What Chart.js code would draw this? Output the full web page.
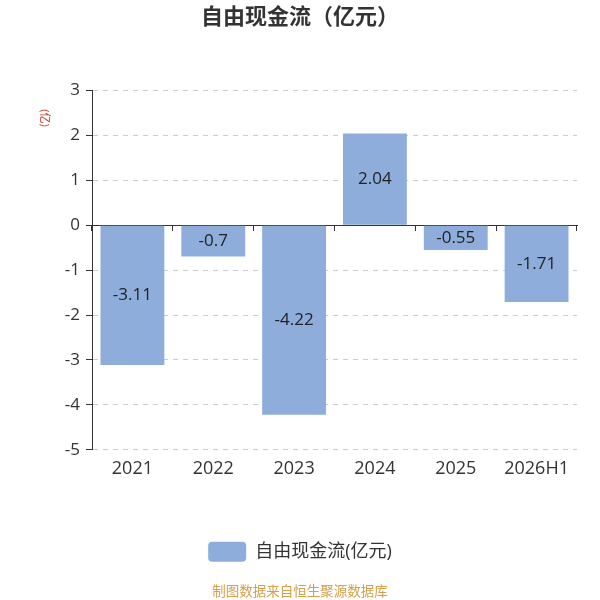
<!DOCTYPE html>
<html>
<head>
<meta charset="utf-8">
<script src="https://cdn.jsdelivr.net/npm/chart.js@4/dist/chart.umd.min.js"></script>
<style>
  body { margin: 0; background: #fff; }
  #wrap { width: 600px; height: 600px; }
</style>
</head>
<body>
<div id="wrap"><canvas id="canvas"></canvas></div>
<script>
const years = ['2021', '2022', '2023', '2024', '2025', '2026H1'];
const freeCashFlow = [-3.11, -0.7, -4.22, 2.04, -0.55, -1.71];
const yMin = -5;
const yMax = 3;
const yStep = 1;

const FONT = '"Open Sans", "Noto Sans CJK SC", sans-serif';

// value labels in the middle of each bar
const barLabels = {
  id: 'barLabels',
  afterDatasetsDraw(chart) {
    const ctx = chart.ctx;
    const meta = chart.getDatasetMeta(0);
    ctx.save();
    ctx.font = '17px ' + FONT;
    ctx.fillStyle = '#222';
    ctx.textAlign = 'center';
    ctx.textBaseline = 'middle';
    meta.data.forEach((bar, i) => {
      const y = (bar.y + bar.base) / 2;
      ctx.fillText(String(chart.data.datasets[0].data[i]), bar.x, y);
    });
    ctx.restore();
  }
};

// small rotated unit label left of the y axis
const unitLabel = {
  id: 'unitLabel',
  afterDraw(chart) {
    const ctx = chart.ctx;
    ctx.save();
    ctx.translate(44, 118);
    ctx.rotate(Math.PI / 2);
    ctx.font = '11px ' + FONT;
    ctx.fillStyle = '#c23b22';
    ctx.textAlign = 'center';
    ctx.textBaseline = 'middle';
    ctx.fillText('(亿)', 0, 0);
    ctx.restore();
  }
};

new Chart(document.getElementById('canvas').getContext('2d'), {
  type: 'bar',
  data: {
    labels: years,
    datasets: [{
      label: '自由现金流(亿元)',
      data: freeCashFlow,
      backgroundColor: '#8eaddb',
      borderWidth: 0,
      barPercentage: 0.79,
      categoryPercentage: 1,
      xAxisID: 'x',
      yAxisID: 'y'
    }]
  },
  options: {
    responsive: true,
    maintainAspectRatio: false,
    animation: false,
    layout: { padding: 0 },
    scales: {
      x: {
        position: 'bottom',
        grid: { display: false },
        border: { display: false },
        ticks: { color: '#333', font: { size: 18, family: FONT }, padding: 0 },
        afterFit(scale) { scale.height = 82; }
      },
      x0: {
        type: 'category',
        position: { y: 0 },
        grid: {
          display: true,
          drawOnChartArea: false,
          drawTicks: true,
          tickLength: 5,
          tickColor: '#333',
          offset: true
        },
        border: { display: true, color: '#333', width: 1 },
        ticks: { display: false }
      },
      y: {
        min: yMin,
        max: yMax,
        ticks: {
          stepSize: yStep,
          color: '#333',
          font: { size: 17, family: FONT },
          padding: 6
        },
        grid: {
          color: '#cccccc',
          tickColor: '#333',
          tickLength: 6,
          tickBorderDash: []
        },
        border: { display: true, color: '#333', width: 1, dash: [5, 5] },
        afterFit(scale) { scale.width = 92; }
      },
      // empty right-hand gutter so the chart area ends where the reference does
      yGutter: {
        position: 'right',
        min: yMin,
        max: yMax,
        grid: { display: false },
        border: { display: false },
        ticks: { display: false },
        afterFit(scale) { scale.width = 23; }
      }
    },
    plugins: {
      title: {
        display: true,
        text: '自由现金流（亿元）',
        color: '#333',
        font: { size: 22, weight: 'bold', family: FONT },
        padding: { top: 5, bottom: 59 }
      },
      subtitle: {
        display: true,
        position: 'bottom',
        text: '制图数据来自恒生聚源数据库',
        color: '#d4a04a',
        font: { size: 13.5, family: FONT },
        padding: { top: 12, bottom: 0 }
      },
      legend: {
        position: 'bottom',
        labels: {
          boxWidth: 38,
          boxHeight: 20,
          useBorderRadius: true,
          borderRadius: 4,
          color: '#333',
          font: { size: 18, family: FONT },
          padding: 10
        }
      },
      tooltip: { enabled: false }
    }
  },
  plugins: [barLabels, unitLabel]
});
</script>
</body>
</html>
